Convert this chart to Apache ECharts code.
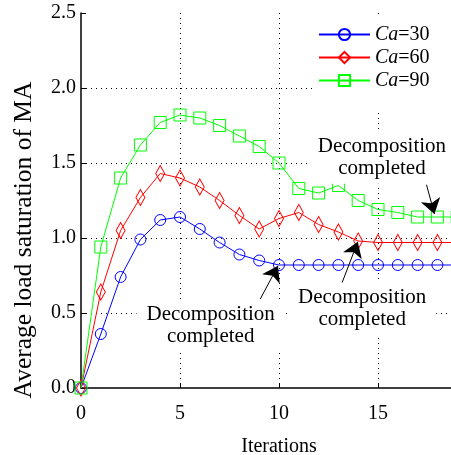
<!DOCTYPE html>
<html>
<head>
<meta charset="utf-8">
<script src="https://cdn.jsdelivr.net/npm/echarts@6/dist/echarts.min.js"></script>
<style>
  html, body { margin: 0; padding: 0; background: #fff; }
  #chart { width: 451px; height: 455px; }
</style>
</head>
<body>
<div id="chart"></div>
<script>
// Iteration index (0..20)
const iterations = [0,1,2,3,4,5,6,7,8,9,10,11,12,13,14,15,16,17,18,19,20];

// Average load saturation per iteration
const ca30 = [0, 0.36, 0.74, 0.99, 1.12, 1.14, 1.06, 0.97, 0.89, 0.85, 0.82, 0.82, 0.82, 0.82, 0.82, 0.82, 0.82, 0.82, 0.82, 0.82, 0.82];
const ca60 = [0, 0.64, 1.05, 1.27, 1.43, 1.40, 1.34, 1.25, 1.15, 1.06, 1.13, 1.17, 1.09, 1.04, 0.98, 0.97, 0.97, 0.97, 0.97, 0.97, 0.97];
const ca90 = [0, 0.94, 1.40, 1.62, 1.77, 1.82, 1.80, 1.75, 1.68, 1.61, 1.50, 1.33, 1.30, 1.35, 1.25, 1.19, 1.17, 1.14, 1.14, 1.14, 1.14];

const seriesNames = ['Ca=30', 'Ca=60', 'Ca=90'];
const xTicks = [0, 5, 10, 15, 20];
const yTicks = [0, 0.5, 1.0, 1.5, 2.0, 2.5];
const yTitle = 'Average load saturation of MA';

// "Decomposition completed" notes: label centre, arrow tail, arrow tip (data units)
const noteText = 'Decomposition\ncompleted';
const note30 = { label: [6.55, 0.42], tail: [9.04, 0.59], tip: [9.95, 0.815] };
const note60 = { label: [14.2, 0.53], tail: [13.18, 0.70], tip: [13.98, 0.975] };
const note90 = { label: [15.2, 1.535], tail: [17.45, 1.355], tip: [17.85, 1.16] };

const serif = '"Liberation Serif", "Times New Roman", serif';

function pairs(ys) { return iterations.map((x, i) => [x, ys[i]]); }

function notes(n) {
  return {
    markPoint: {
      silent: true,
      symbol: 'circle',
      symbolSize: 1,
      itemStyle: { color: 'rgba(0,0,0,0)' },
      label: {
        show: true,
        position: 'inside',
        formatter: noteText,
        fontFamily: serif,
        fontSize: 21,
        lineHeight: 22,
        color: '#000',
        align: 'center',
        backgroundColor: '#fff',
        padding: [4, 10]
      },
      data: [{ coord: n.label }]
    },
    markLine: {
      silent: true,
      symbol: ['none', 'arrow'],
      symbolSize: 15,
      lineStyle: { color: '#000', width: 1, type: 'solid' },
      itemStyle: { color: '#000' },
      label: { show: false },
      data: [[
        { coord: n.tail, symbol: 'none' },
        { coord: n.tip, symbol: 'arrow', symbolSize: 15, itemStyle: { color: '#000' }, lineStyle: { color: '#000' } }
      ]]
    }
  };
}

const chart = echarts.init(document.getElementById('chart'));

const base = (name, data, color, symbol, size, n) => Object.assign({
  name: name,
  type: 'line',
  data: pairs(data),
  symbol: symbol,
  symbolSize: size,
  showAllSymbol: true,
  lineStyle: { color: color, width: 1 },
  itemStyle: { color: 'rgba(0,0,0,0)', borderColor: color, borderWidth: 1 },
  emphasis: { disabled: true }
}, notes(n));

chart.setOption({
  animation: false,
  backgroundColor: '#fff',
  textStyle: { fontFamily: serif },
  grid: { left: 81, top: 13, width: 396, height: 375, outerBoundsMode: 'none', containLabel: false },
  // vertical axis title, rotated, centred a little below the middle of the axis
  graphic: [{
    type: 'text',
    x: 24,
    y: 240,
    rotation: Math.PI / 2,
    silent: true,
    style: {
      text: yTitle,
      fontFamily: serif,
      fontSize: 25.5,
      fill: '#000',
      align: 'center',
      verticalAlign: 'middle'
    }
  }],
  legend: {
    orient: 'vertical',
    left: 315,
    top: 17,
    padding: [6, 18, 18, 3],
    backgroundColor: '#fff',
    itemWidth: 51,
    itemHeight: 14,
    itemGap: 0,
    data: seriesNames,
    formatter: function (name) {
      const parts = name.split('=');
      return '{i|' + parts[0] + '}=' + parts[1];
    },
    textStyle: {
      fontFamily: serif, fontSize: 20, color: '#000', lineHeight: 23,
      rich: { i: { fontFamily: serif, fontSize: 20, fontStyle: 'italic', color: '#000' } }
    }
  },
  xAxis: {
    type: 'value',
    min: xTicks[0],
    max: xTicks[xTicks.length - 1],
    interval: xTicks[1] - xTicks[0],
    name: 'Iterations',
    nameLocation: 'middle',
    nameGap: 49,
    nameTextStyle: { fontFamily: serif, fontSize: 20, color: '#000' },
    axisLine: { lineStyle: { color: '#000', width: 1.5 } },
    axisTick: { inside: true, length: 5, lineStyle: { color: '#000' } },
    axisLabel: { fontFamily: serif, fontSize: 20, color: '#000', margin: 16 },
    splitLine: {
      show: true, showMinLine: false, showMaxLine: false,
      lineStyle: { color: '#000', type: [1, 4], width: 1 }
    }
  },
  yAxis: {
    type: 'value',
    min: yTicks[0],
    max: yTicks[yTicks.length - 1],
    interval: yTicks[1] - yTicks[0],
    axisLine: { show: true, lineStyle: { color: '#000', width: 1.5 } },
    axisTick: { show: true, inside: true, length: 5, lineStyle: { color: '#000' } },
    axisLabel: {
      fontFamily: serif, fontSize: 20, color: '#000', margin: 5,
      formatter: v => v.toFixed(1)
    },
    splitLine: {
      show: true, showMinLine: false, showMaxLine: false,
      lineStyle: { color: '#000', type: [1, 4], width: 1 }
    }
  },
  series: [
    base(seriesNames[0], ca30, '#0000ff', 'circle', 11, note30),
    base(seriesNames[1], ca60, '#ff0000', 'diamond', [9, 16], note60),
    base(seriesNames[2], ca90, '#00ff00', 'rect', 12, note90)
  ]
});
</script>
</body>
</html>
